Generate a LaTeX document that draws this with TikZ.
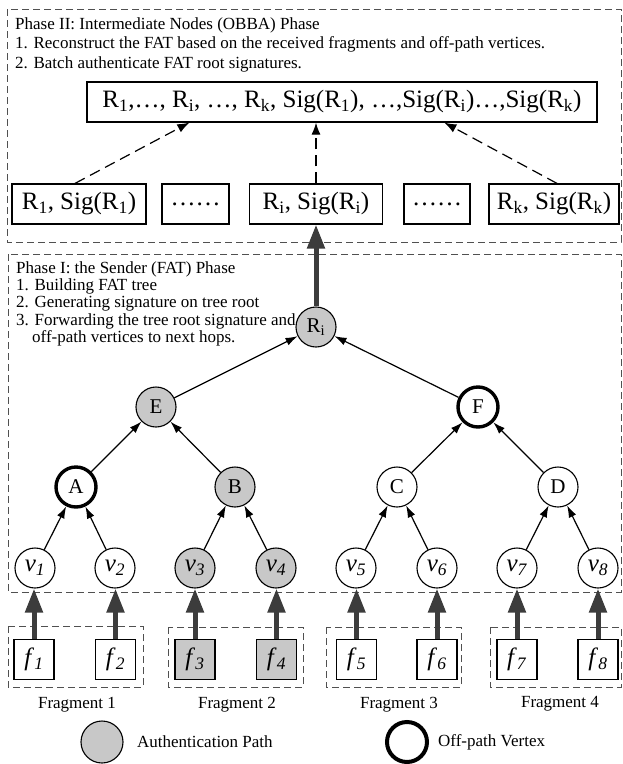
\documentclass[tikz,border=0pt]{standalone}
\usepackage{fontspec}
\setmainfont{Liberation Serif}
\usetikzlibrary{arrows.meta}
\definecolor{authgray}{HTML}{C8C8C8}
\definecolor{thickgray}{HTML}{3C3C3C}
\definecolor{boxgray}{HTML}{505050}
\newcommand{\sub}[1]{\textsubscript{#1}}
\newcommand{\isub}[1]{\textsubscript{\textit{#1}}}
\begin{document}
\begin{tikzpicture}[x=1pt,y=-1pt,
  phasebox/.style={draw=boxgray, dash pattern=on 7pt off 4pt, line width=0.9pt},
  txt/.style={anchor=base west, inner sep=0pt, font=\fontsize{17}{20}\selectfont},
  lbl/.style={inner sep=0pt, font=\fontsize{17}{20}\selectfont},
  sigbox/.style={draw, line width=1.2pt, inner sep=0pt, minimum height=40pt, font=\fontsize{25}{28}\selectfont},
  vert/.style={circle, draw, line width=1.1pt, minimum size=40pt, inner sep=0pt, font=\fontsize{21}{24}\selectfont},
  leaf/.style={vert, font=\fontsize{25}{27}\selectfont},
  authv/.style={fill=authgray},
  offv/.style={line width=3.4pt},
  fbox/.style={draw, line width=1.4pt, minimum size=40pt, inner sep=0pt, font=\fontsize{25}{27}\selectfont},
  treearrow/.style={-{Latex[length=12pt,width=8pt]}, line width=1.2pt},
  dasharrow/.style={-{Latex[length=12pt,width=9pt]}, line width=1.2pt, dash pattern=on 11pt off 6pt},
  thickarrow/.style={-{Triangle[length=24pt,width=17pt]}, line width=5pt, draw=thickgray, fill=thickgray}
]
\useasboundingbox (0,0) rectangle (622,764);

% phase boxes
\draw[phasebox] (7,9) rectangle (621,242);
\draw[phasebox] (8,254) rectangle (621,592);
% fragment groups
\draw[phasebox] (8,626) rectangle (143,687);
\draw[phasebox] (168,627) rectangle (303,687);
\draw[phasebox] (326,627) rectangle (461,687);
\draw[phasebox] (490,627) rectangle (621,687);

% Phase II text
\node[txt] (p2a) at (15,29) {Phase II: Intermediate Nodes (OBBA) Phase};
\node[txt] (p2b) at (15,48.5) {1. Reconstruct the FAT based on the received fragments and off-path vertices.};
\node[txt] (p2c) at (15,68) {2. Batch authenticate FAT root signatures.};

% Phase II boxes
\node[sigbox, minimum width=510pt] (top) at (342,102)
  {R\sub{1},…, R\sub{i}, …, R\sub{k}, Sig(R\sub{1}), …,Sig(R\sub{i})…,Sig(R\sub{k})};
\node[sigbox, minimum width=134pt] (b1) at (79,204) {R\sub{1}, Sig(R\sub{1})};
\node[sigbox, minimum width=67pt] (b2) at (195.5,204) {……};
\node[sigbox, minimum width=133pt] (b3) at (316,204) {R\sub{i}, Sig(R\sub{i})};
\node[sigbox, minimum width=66pt] (b4) at (437,204) {……};
\node[sigbox, minimum width=130pt] (b5) at (554,204) {R\sub{k}, Sig(R\sub{k})};

\coordinate (t1) at ([xshift=103pt]top.south west);
\coordinate (t5) at ([xshift=358pt]top.south west);
\draw[dasharrow] ([xshift=-4pt]b1.north) -- (t1);
\draw[dasharrow] (b3.north) -- (b3.north |- top.south);
\draw[dasharrow] ([xshift=3pt]b5.north) -- (t5);

% Phase I text
\node[txt] (p1a) at (16,273) {Phase I: the Sender (FAT) Phase};
\node[txt] (p1b) at (16,290) {1. Building FAT tree};
\node[txt] (p1c) at (16,307.5) {2. Generating signature on tree root};
\node[txt] (p1d) at (16,325) {3. Forwarding the tree root signature and};
\node[txt] (p1e) at (32,342) {off-path vertices to next hops.};

% tree
\node[vert, authv] (R) at (316,327) {R\sub{i}};
\node[vert, authv] (E) at (156,407) {E};
\node[vert, offv] (F) at (478,407) {F};
\node[vert, offv] (A) at (76,487) {A};
\node[vert, authv] (B) at (235,487) {B};
\node[vert] (C) at (397,487) {C};
\node[vert] (D) at (558,487) {D};
\node[leaf] (v1) at (35,568) {\textit{v}\isub{1}};
\node[leaf] (v2) at (115,568) {\textit{v}\isub{2}};
\node[leaf, authv] (v3) at (195,568) {\textit{v}\isub{3}};
\node[leaf, authv] (v4) at (276,568) {\textit{v}\isub{4}};
\node[leaf] (v5) at (356,568) {\textit{v}\isub{5}};
\node[leaf] (v6) at (437,568) {\textit{v}\isub{6}};
\node[leaf] (v7) at (517,568) {\textit{v}\isub{7}};
\node[leaf] (v8) at (598,568) {\textit{v}\isub{8}};

\draw[treearrow] (E) -- (R);
\draw[treearrow] (F) -- (R);
\draw[treearrow] (A) -- (E);
\draw[treearrow] (B) -- (E);
\draw[treearrow] (C) -- (F);
\draw[treearrow] (D) -- (F);
\draw[treearrow] (v1) -- (A);
\draw[treearrow] (v2) -- (A);
\draw[treearrow] (v3) -- (B);
\draw[treearrow] (v4) -- (B);
\draw[treearrow] (v5) -- (C);
\draw[treearrow] (v6) -- (C);
\draw[treearrow] (v7) -- (D);
\draw[treearrow] (v8) -- (D);

\draw[thickarrow] (R.north) -- (R.north |- b3.south);

% fragments
\node[fbox] (f1) at (34,659.5) {\textit{f}\isub{1}};
\node[fbox] (f2) at (115.5,659.5) {\textit{f}\isub{2}};
\node[fbox, fill=authgray] (f3) at (195,659.5) {\textit{f}\isub{3}};
\node[fbox, fill=authgray] (f4) at (276.5,659.5) {\textit{f}\isub{4}};
\node[fbox] (f5) at (356.5,659.5) {\textit{f}\isub{5}};
\node[fbox] (f6) at (437,659.5) {\textit{f}\isub{6}};
\node[fbox] (f7) at (517,659.5) {\textit{f}\isub{7}};
\node[fbox] (f8) at (598,659.5) {\textit{f}\isub{8}};

\foreach \i in {1,...,8} {
  \draw[thickarrow] (f\i.north) -- (f\i.north |- v\i.south);
}

\node[lbl] (fr1) at (77,705) {Fragment 1};
\node[lbl] (fr2) at (237,705) {Fragment 2};
\node[lbl] (fr3) at (399,705) {Fragment 3};
\node[lbl] (fr4) at (560,704) {Fragment 4};

% legend
\node[vert, authv, minimum size=42pt] (lg1) at (102,742) {};
\node[lbl, anchor=west] (lt1) at (137,742) {Authentication Path};
\node[vert, line width=4pt, minimum size=40pt] (lg2) at (407,742) {};
\node[lbl, anchor=west] (lt2) at (438,742) {Off-path Vertex};
\end{tikzpicture}
\end{document}
